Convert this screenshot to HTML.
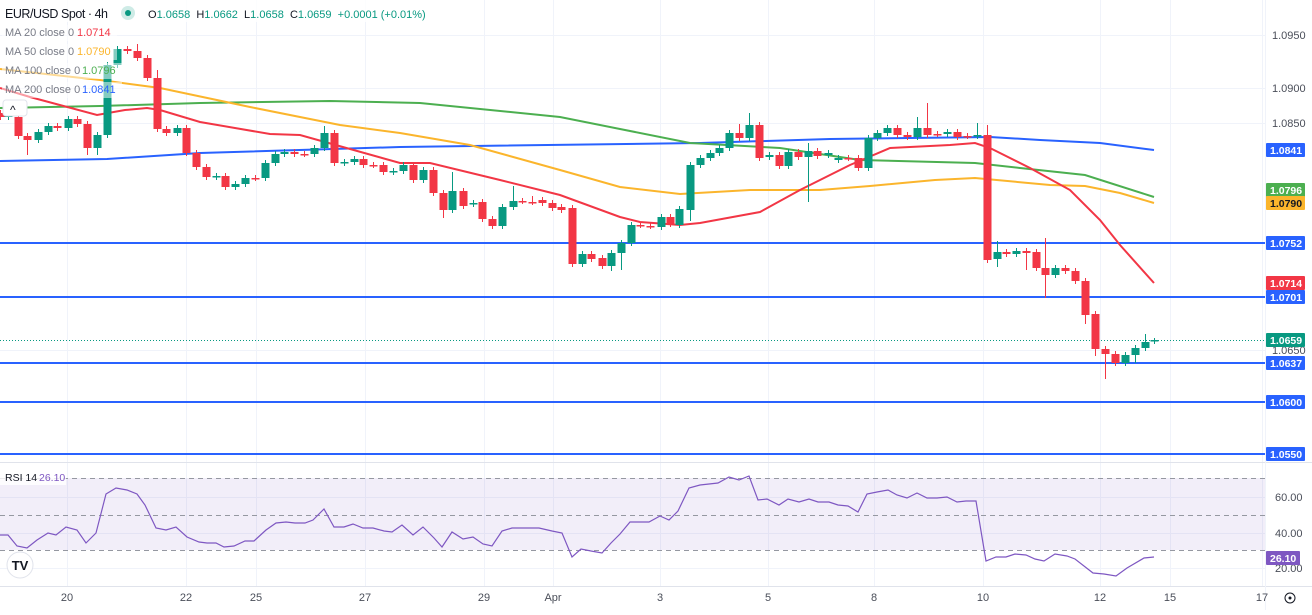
<!DOCTYPE html>
<html><head><meta charset="utf-8"><style>
html,body{margin:0;padding:0;background:#fff;}
body{width:1312px;height:610px;overflow:hidden;font-family:"Liberation Sans",sans-serif;}
svg text{font-family:"Liberation Sans",sans-serif;}
</style></head><body>
<svg id="s" width="1312" height="610" xmlns="http://www.w3.org/2000/svg">
<rect width="1312" height="610" fill="#fff"/>
<g id="grid" stroke="#f0f3fa" stroke-width="1"></g>
<rect x="0" y="478" width="1265" height="72" fill="#7e57c2" fill-opacity="0.1"/>
<g stroke="#9598a1" stroke-dasharray="5,4" stroke-width="1">
<line x1="0" y1="478.5" x2="1265" y2="478.5"/><line x1="0" y1="515.5" x2="1265" y2="515.5"/><line x1="0" y1="550.5" x2="1265" y2="550.5"/>
</g>
<line x1="0" y1="462.5" x2="1312" y2="462.5" stroke="#e0e3eb"/>
<line x1="0" y1="586.5" x2="1312" y2="586.5" stroke="#e0e3eb"/>
<line x1="1265.5" y1="0" x2="1265.5" y2="610" stroke="#f0f3fa"/>
<g id="hl" stroke="#2962ff" stroke-width="2"></g>
<line x1="0" y1="340.5" x2="1265" y2="340.5" stroke="#089981" stroke-dasharray="1,2"/>
<g id="ma" fill="none" stroke-width="2"></g>
<g id="c"></g>
<polyline id="rsi" fill="none" stroke="#7e57c2" stroke-width="1.2"/>
<g id="ax" font-size="11" fill="#4a4e59"></g>
</svg>
<script>
const S=document.getElementById('s'),NS='http://www.w3.org/2000/svg';
function el(p,t,a,txt){const e=document.createElementNS(NS,t);for(const k in a)e.setAttribute(k,a[k]);if(txt!==undefined)e.textContent=txt;(typeof p==='string'?document.getElementById(p):p).appendChild(e);return e;}
[35,88,123,350,402,454].forEach(y=>el('grid','line',{x1:0,y1:y+.5,x2:1265,y2:y+.5}));
[497,533,568].forEach(y=>el('grid','line',{x1:0,y1:y+.5,x2:1265,y2:y+.5}));
const days=[[67,'20'],[186,'22'],[256,'25'],[365,'27'],[484,'29'],[553,'Apr'],[660,'3'],[768,'5'],[874,'8'],[983,'10'],[1100,'12'],[1170,'15'],[1262,'17']];
days.forEach(d=>el('grid','line',{x1:d[0]+.5,y1:0,x2:d[0]+.5,y2:586}));
[243,297,363,402,454].forEach(y=>el('hl','line',{x1:0,y1:y,x2:1265,y2:y}));
const ma={
'#2962ff':[[0,161],[107,159],[200,153],[400,147],[700,143],[830,139],[990,137],[1040,140],[1100,143],[1154,150]],
'#4caf50':[[0,108],[100,106],[200,103],[330,101],[420,103],[560,117],[690,143],[780,148],[860,160],[975,163],[1020,168],[1085,175],[1154,197]],
'#fbb52c':[[0,69],[100,80],[160,88],[250,107],[340,125],[400,133],[470,145],[560,170],[620,187],[680,194],[750,190],[820,190],[870,186],[935,180],[975,178],[1050,185],[1085,186],[1120,193],[1154,203]],
'#f23645':[[0,88],[30,97],[97,115],[125,110],[147,108],[160,110],[200,122],[270,134],[300,135],[400,163],[430,163],[500,180],[560,195],[620,217],[640,222],[680,225],[700,223],[760,212],[800,190],[850,165],[890,148],[950,145],[975,143],[990,148],[1030,168],[1070,190],[1100,220],[1120,245],[1154,283]]};
for(const c in ma)el('ma','polyline',{stroke:c,points:ma[c].map(p=>p.join(',')).join(' ')});
const C=[[0,113,117],[8,117,115],[18,117,136],[27,136,140,,155],[38,140,132],[48,132,126],[57,126,128],[68,128,119],[77,119,124],[87,124,148,,155],[97,148,135,,155],[107,135,65],[117,65,49],[127,49,51,46],[137,51,58,44],[147,58,78],[157,78,129,70],[166,129,133],[177,133,128],[186,128,153],[196,153,167],[206,167,177],[216,177,176],[225,176,187],[235,187,184],[245,184,178],[255,178,178],[265,178,163],[275,163,154],[284,154,152],[294,152,154],[304,154,154],[314,154,148],[324,148,133,126],[334,133,163],[344,163,162],[354,162,159],[363,159,165],[373,165,165],[383,165,172],[393,172,171],[403,171,165],[413,165,180],[423,180,170],[433,170,193],[443,193,210,,218],[452,210,191,172],[463,191,206],[473,204,203],[482,202,219],[492,219,226],[502,226,207],[513,207,201,186],[522,201,201],[532,202,202,196],[542,200,203],[552,203,208],[561,207,210],[572,208,264],[582,264,254],[591,254,259],[602,258,266],[611,266,253,,271],[621,253,243,,270],[631,243,225],[640,225,225],[650,226,226],[661,227,217],[670,217,224],[679,225,209],[690,210,165,,221],[700,165,158],[710,158,153],[719,153,148],[729,148,133],[739,133,138,124],[749,138,125,113],[759,125,158],[769,157,155],[779,155,166],[788,166,152],[798,152,157],[808,157,151,143,202],[817,151,156],[828,155,153],[838,160,158],[848,158,158],[858,158,168],[868,168,138],[877,138,133],[887,133,128],[897,128,135],[907,135,137],[917,137,128,117],[927,128,135,103],[937,134,134],[947,134,132],[957,132,137],[967,136,136],[977,136,135,123],[987,135,260,125],[997,259,252,241,267],[1006,252,254],[1016,254,251],[1026,251,253,,270],[1036,252,268],[1045,268,275,238,298],[1055,275,268],[1065,268,271],[1075,271,281],[1085,281,315,,324],[1095,314,349,,356],[1105,349,354,,379],[1115,354,363],[1125,363,355],[1135,355,348,,363],[1145,348,342,334],[1154,341,340,338]];
C.forEach(d=>{const [x,o,c]=d;const up=c<o;const col=up?'#089981':'#f23645';const t=Math.min(o,c),b=Math.max(o,c);
const hi=d[3]!==undefined&&d[3]!==null?d[3]:t-3,lo=d[4]!==undefined?d[4]:b+3;
el('c','line',{x1:x+.5,y1:hi,x2:x+.5,y2:lo,stroke:col,'stroke-width':1});
el('c','rect',{x:x-3.5,y:t,width:8,height:Math.max(1.5,b-t),fill:col});});
const R=[[0,535],[8,535],[17,546],[27,548],[37,540],[48,533],[56,535],[66,527],[77,530],[86,543],[96,533],[106,494],[116,488],[127,490],[137,494],[145,505],[156,528],[166,530],[176,527],[187,537],[199,542],[207,543],[216,543],[224,547],[234,546],[245,541],[254,541],[266,530],[276,523],[286,522],[295,523],[305,523],[313,520],[324,509],[334,527],[344,527],[353,524],[363,528],[373,528],[384,531],[392,532],[402,525],[413,535],[423,527],[434,538],[442,547],[452,532],[463,539],[473,537],[483,544],[492,546],[502,531],[512,528],[523,528],[539,528],[552,531],[562,533],[572,557],[581,549],[591,551],[602,553],[611,543],[620,534],[630,522],[649,522],[660,516],[669,520],[678,511],[689,488],[700,485],[718,483],[729,477],[739,480],[749,476],[758,500],[767,499],[779,505],[788,499],[799,502],[809,499],[818,502],[829,502],[838,505],[848,506],[858,512],[867,494],[877,492],[888,490],[897,495],[907,498],[917,493],[927,498],[937,498],[947,497],[957,502],[966,501],[976,501],[986,561],[996,557],[1006,557],[1015,554],[1026,555],[1035,559],[1044,561],[1055,554],[1067,556],[1075,559],[1093,573],[1104,574],[1116,576],[1127,568],[1144,558],[1154,557]];
document.getElementById('rsi').setAttribute('points',R.map(p=>p.join(',')).join(' '));
[[35,'1.0950'],[88,'1.0900'],[123,'1.0850'],[350,'1.0650'],[497,'60.00'],[533,'40.00'],[568,'20.00']].forEach(l=>el('ax','text',{x:l[1].length>5?1272:1275,y:l[0]+4},l[1]));
days.forEach(d=>el('ax','text',{x:d[0],y:601,'text-anchor':'middle'},d[1]));
const tags=[[150,'1.0841','#2962ff'],[190,'1.0796','#4caf50'],[203,'1.0790','#fbb52c'],[243,'1.0752','#2962ff'],[283,'1.0714','#f23645'],[297,'1.0701','#2962ff'],[340,'1.0659','#089981'],[363,'1.0637','#2962ff'],[402,'1.0600','#2962ff'],[454,'1.0550','#2962ff'],[558,'26.10','#7e57c2']];
tags.forEach(t=>{el('ax','rect',{x:1266,y:t[0]-7,width:t[1].length>5?39:34,height:14,fill:t[2],rx:1});
el('ax','text',{x:1270,y:t[0]+4,fill:t[2]=='#fbb52c'?'#131722':'#fff','font-weight':'bold','font-size':10.5},t[1]);});
const L=el(S,'g',{'font-size':11});
el(L,'rect',{x:0,y:0,width:430,height:22,fill:'#fff','fill-opacity':0.8});
el(L,'text',{x:5,y:18,'font-size':12.5,fill:'#131722',textLength:103},'EUR/USD Spot · 4h');
el(L,'circle',{cx:128,cy:13,r:7,fill:'#089981','fill-opacity':0.2});
el(L,'circle',{cx:128,cy:13,r:3,fill:'#089981'});
const hdr=el(L,'text',{x:148,y:18,'font-size':11,fill:'#089981'});
hdr.setAttribute('xml:space','preserve');hdr.style.whiteSpace='pre';
[['O','1.0658  '],['H','1.0662  '],['L','1.0658  '],['C','1.0659  +0.0001 (+0.01%)']].forEach(p=>{el(hdr,'tspan',{fill:'#131722'},p[0]);el(hdr,'tspan',{},p[1]);});
[[36,'MA 20 close 0','1.0714','#f23645',77],[55,'MA 50 close 0','1.0790','#fbb52c',77],[74,'MA 100 close 0','1.0796','#4caf50',82],[93,'MA 200 close 0','1.0841','#2962ff',82]].forEach(r=>{
el(L,'rect',{x:2,y:r[0]-11,width:r[4]+38,height:16,fill:'#fff','fill-opacity':0.5});
el(L,'text',{x:5,y:r[0],fill:'#787b86'},r[1]);el(L,'text',{x:r[4],y:r[0],fill:r[3]},r[2]);});
el(L,'rect',{x:3,y:100,width:24,height:16,rx:3,fill:'#fff',stroke:'#e0e3eb'});
el(L,'text',{x:10,y:114,fill:'#131722','font-size':12},'^');
el(L,'rect',{x:0,y:469,width:66,height:16,fill:'#fff','fill-opacity':0.8});
el(L,'text',{x:5,y:481,fill:'#131722','font-size':10.5},'RSI 14');
el(L,'text',{x:39,y:481,fill:'#7e57c2','font-size':10.5},'26.10');
el(L,'circle',{cx:20,cy:565,r:13,fill:'#fff',stroke:'#e0e3eb'});
el(L,'text',{x:20,y:570,'text-anchor':'middle','font-weight':'bold','font-size':13,fill:'#131722'},'TV');
el(L,'circle',{cx:1290,cy:598,r:5,fill:'none',stroke:'#131722'});
el(L,'circle',{cx:1290,cy:598,r:1.5,fill:'#131722'});
</script>
</body></html>
